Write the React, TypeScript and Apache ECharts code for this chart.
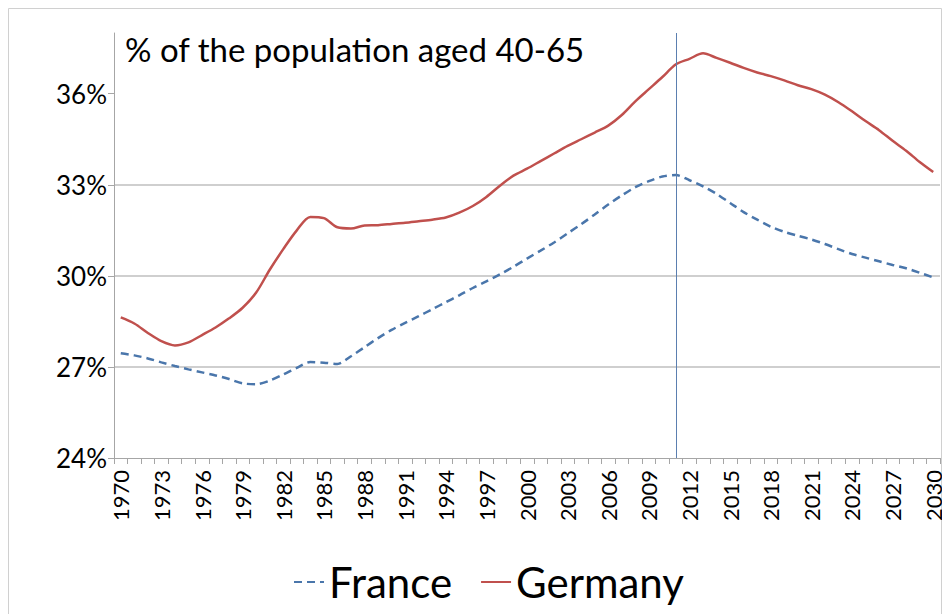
import React, { useEffect, useRef } from "react";
import * as echarts from "echarts";

const years: string[] = Array.from({ length: 61 }, (_, i) => String(1970 + i));

const france: number[] = [
  27.45, 27.38, 27.28, 27.15, 27.03, 26.92, 26.82, 26.72, 26.6, 26.46,
  26.43, 26.55, 26.75, 26.97, 27.16, 27.14, 27.1, 27.35, 27.65, 27.95,
  28.22, 28.45, 28.67, 28.9, 29.13, 29.36, 29.6, 29.82, 30.05, 30.3,
  30.57, 30.83, 31.1, 31.4, 31.7, 32.02, 32.35, 32.65, 32.92, 33.12,
  33.27, 33.32, 33.15, 32.95, 32.7, 32.4, 32.1, 31.85, 31.62, 31.45,
  31.32, 31.2, 31.05, 30.88, 30.72, 30.6, 30.48, 30.36, 30.25, 30.1, 29.95,
];

const germany: number[] = [
  28.63, 28.43, 28.12, 27.85, 27.71, 27.81, 28.05, 28.3, 28.6, 28.95,
  29.45, 30.2, 30.88, 31.5, 31.94, 31.9, 31.6, 31.56, 31.66, 31.67,
  31.71, 31.75, 31.8, 31.85, 31.92, 32.08, 32.3, 32.6, 32.97, 33.3,
  33.53, 33.78, 34.03, 34.28, 34.5, 34.72, 34.95, 35.3, 35.75, 36.15,
  36.55, 36.97, 37.15, 37.33, 37.18, 37.02, 36.85, 36.7, 36.58, 36.44,
  36.28, 36.15, 35.97, 35.72, 35.42, 35.1, 34.8, 34.45, 34.12, 33.75, 33.42,
];

const yTicks: number[] = [24, 27, 30, 33, 36];
const markerYear = "2011";
const title = "% of the population aged 40-65";

const FONT = "Lato, 'Noto Sans', sans-serif";

export default function App() {
  const ref = useRef<HTMLDivElement>(null);

  useEffect(() => {
    if (!ref.current) return;
    const chart = echarts.init(ref.current, undefined, { renderer: "svg" });
    chart.setOption({
      animation: false,
      backgroundColor: "#ffffff",
      textStyle: { fontFamily: FONT },
      grid: { left: 106, right: 10, top: 25, bottom: 156, containLabel: false },
      graphic: [
        {
          type: "rect",
          shape: { x: 0.5, y: 0.5, width: 933, height: 620 },
          style: { fill: "none", stroke: "#d0d0d0", lineWidth: 1 },
          silent: true,
        },
        {
          type: "text",
          left: 117,
          top: 24,
          style: {
            text: title,
            font: `33px ${FONT}`,
            fill: "#000000",
          },
          z: 10,
        },
      ],
      legend: {
        bottom: 6,
        left: 280,
        itemWidth: 30,
        itemHeight: 14,
        itemGap: 28,
        itemStyle: { opacity: 0 },
        textStyle: { fontSize: 42, color: "#000000", fontFamily: FONT },
        data: ["France", "Germany"],
      },
      xAxis: {
        type: "category",
        data: years,
        boundaryGap: true,
        axisLine: { show: true, lineStyle: { color: "#a6a6a6", width: 1 } },
        axisTick: { show: true, interval: 0, length: 6, lineStyle: { color: "#a6a6a6" } },
        axisLabel: {
          interval: 2,
          rotate: 90,
          fontSize: 22,
          color: "#000000",
          margin: 12,
          fontFamily: FONT,
        },
        splitLine: { show: false },
      },
      yAxis: {
        type: "value",
        min: 24,
        max: 38,
        interval: 3,
        axisLine: { show: true, lineStyle: { color: "#a6a6a6", width: 1 } },
        axisTick: {
          show: true,
          length: 6,
          customValues: yTicks,
          lineStyle: { color: "#a6a6a6" },
        },
        axisLabel: {
          customValues: yTicks,
          formatter: (v: number) => (v > 37 ? "" : `${v}%`),
          fontSize: 26,
          color: "#000000",
          margin: 7,
          fontFamily: FONT,
        },
        splitLine: {
          show: true,
          showMinLine: false,
          showMaxLine: false,
          lineStyle: { color: "#bfbfbf", width: 1.5 },
        },
      },
      series: [
        {
          name: "France",
          type: "line",
          data: france,
          symbol: "none",
          smooth: 0.3,
          lineStyle: { color: "#4a76ab", width: 2.5, type: [8, 5] },
          itemStyle: { color: "#4a76ab" },
          markLine: {
            silent: true,
            symbol: "none",
            label: { show: false },
            lineStyle: { color: "#5b7fb0", width: 1, type: "solid" },
            data: [{ xAxis: markerYear }],
          },
        },
        {
          name: "Germany",
          type: "line",
          data: germany,
          symbol: "none",
          smooth: 0.3,
          lineStyle: { color: "#c0504d", width: 2.5 },
          itemStyle: { color: "#c0504d" },
        },
      ],
    });
    return () => chart.dispose();
  }, []);

  return <div ref={ref} style={{ width: 942, height: 606 }} />;
}
